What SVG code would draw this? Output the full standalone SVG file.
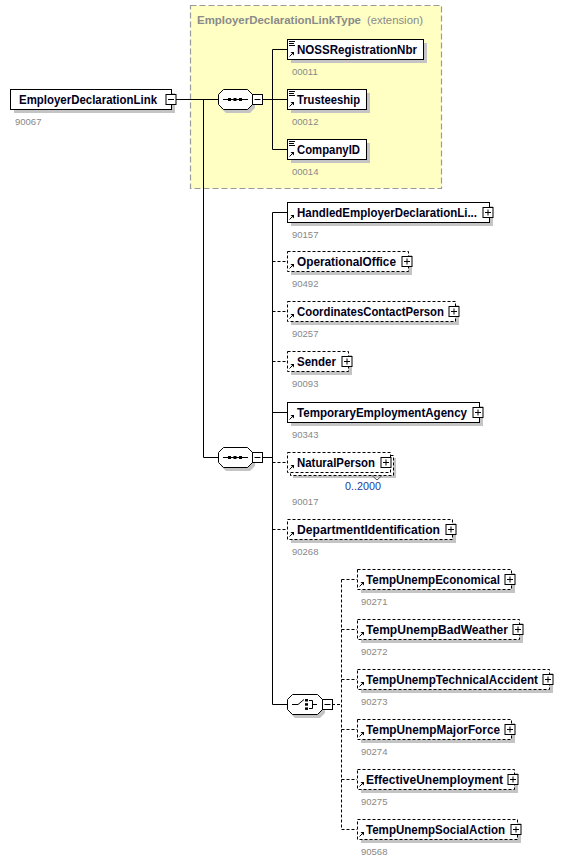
<svg xmlns="http://www.w3.org/2000/svg" width="582" height="863" viewBox="0 0 582 863">
<defs>
<style>
.bg{fill:#fff}
.sh{fill:#c4c4c4}
.box{fill:#fff;stroke:#000;stroke-width:1}
.opt{fill:#fff;stroke:#000;stroke-width:1;stroke-dasharray:3,2}
.lbl{font-family:"Liberation Sans",Arial,sans-serif;font-weight:bold;font-size:12.5px;fill:#00001a}
.num{font-family:"Liberation Sans",Arial,sans-serif;font-size:9.5px;fill:#888}
.mult{font-family:"Liberation Sans",Arial,sans-serif;font-size:11.5px;fill:#1a3c9a}
.ln{fill:none;stroke:#000;stroke-width:1}
.dl{fill:none;stroke:#000;stroke-width:1;stroke-dasharray:3,2}
.pm{fill:#fff;stroke:#000;stroke-width:1}
.ext{fill:#ffffc4;stroke:#9a9a9a;stroke-width:1.2;stroke-dasharray:6,3}
.ttl{font-family:"Liberation Sans",Arial,sans-serif;font-size:11.3px;fill:#8a8a8a}
</style>
<g id="refArrow"><path d="M0.5,4.5 L3.5,1.5" stroke="#000" stroke-width="1"/><path d="M1.5,0 L5,0 L5,3.5 Z" fill="#000"/></g>
<g id="plus"><rect x="-5" y="-5" width="10" height="10" class="pm"/><path d="M-3,0 H3 M0,-3 V3" stroke="#000" stroke-width="1"/></g>
<g id="minus"><rect x="-5" y="-5" width="10" height="10" class="pm"/><path d="M-3,0 H3" stroke="#000" stroke-width="1"/></g>
<g id="docIcon"><path d="M0,0.5 H6 M0,2.5 H5 M0,4.5 H6" stroke="#000" stroke-width="1"/></g>
</defs>
<rect width="582" height="863" class="bg"/>

<!-- extension type box -->
<g id="extType">
<rect x="190.5" y="5.5" width="251" height="183" class="ext"/>
<text x="197" y="24" class="ttl" font-weight="bold" textLength="164" lengthAdjust="spacingAndGlyphs">EmployerDeclarationLinkType</text>
<text x="367" y="24" class="ttl" textLength="56" lengthAdjust="spacingAndGlyphs">(extension)</text>
</g>

<!-- connectors -->
<g id="connectors">
<path class="ln" d="M175,99.5 H218 M203.5,99.5 V457.5 H218"/>
<path class="ln" d="M262,99.5 H272.5 M272.5,49.5 V149.5 M272.5,49.5 H287 M272.5,99.5 H287 M272.5,149.5 H287"/>
<path class="ln" d="M262,457.5 H272.5 M272.5,212.5 V704.5 M272.5,212.5 H287 M272.5,412.5 H287 M272.5,704.5 H287"/>
<path class="dl" d="M272.5,261.5 H287 M272.5,311.5 H287 M272.5,361.5 H287 M272.5,462.5 H287 M272.5,529.5 H287"/>
<path class="dl" d="M332,704.5 H341.5 M341.5,579.5 V829.5 M341.5,579.5 H357 M341.5,629.5 H357 M341.5,679.5 H357 M341.5,729.5 H357 M341.5,779.5 H357 M341.5,829.5 H357"/>
</g>

<!-- root -->
<g id="root">
<rect x="14" y="93" width="161" height="20" class="sh"/>
<rect x="10.5" y="89.5" width="161" height="20" class="box"/>
<text x="19" y="104" class="lbl" textLength="138" lengthAdjust="spacingAndGlyphs">EmployerDeclarationLink</text>
<use href="#minus" x="171" y="99.5"/>
<text x="15" y="125" class="num">90067</text>
</g>

<!-- sequence 1 -->
<g id="seq1">
<path d="M226,93 H250 L255,98 V108 L250,113 H226 L221,108 V98 Z" class="sh"/>
<path d="M223.5,89.5 H247.5 L252.5,94.5 V104.5 L247.5,109.5 H223.5 L218.5,104.5 V94.5 Z" class="box"/>
<path d="M223,99.5 H248" stroke="#000" stroke-width="1"/>
<rect x="228" y="98" width="3" height="3" fill="#000"/><rect x="233.5" y="98" width="3" height="3" fill="#000"/><rect x="239" y="98" width="3" height="3" fill="#000"/>
<use href="#minus" x="257.5" y="99.5"/>
</g>

<!-- extension children -->
<g id="NOSSRegistrationNbr">
<rect x="291" y="43" width="136" height="20" class="sh"/>
<rect x="287.5" y="39.5" width="136" height="20" class="box"/>
<use href="#docIcon" x="289" y="41"/>
<use href="#refArrow" x="289" y="52"/>
<text x="297" y="54" class="lbl" textLength="120" lengthAdjust="spacingAndGlyphs">NOSSRegistrationNbr</text>
<text x="292" y="75" class="num">00011</text>
</g>
<g id="Trusteeship">
<rect x="291" y="93" width="79" height="20" class="sh"/>
<rect x="287.5" y="89.5" width="79" height="20" class="box"/>
<use href="#docIcon" x="289" y="91"/>
<use href="#refArrow" x="289" y="102"/>
<text x="297" y="104" class="lbl" textLength="63" lengthAdjust="spacingAndGlyphs">Trusteeship</text>
<text x="292" y="125" class="num">00012</text>
</g>
<g id="CompanyID">
<rect x="291" y="143" width="79" height="20" class="sh"/>
<rect x="287.5" y="139.5" width="79" height="20" class="box"/>
<use href="#docIcon" x="289" y="141"/>
<use href="#refArrow" x="289" y="152"/>
<text x="297" y="154" class="lbl" textLength="63" lengthAdjust="spacingAndGlyphs">CompanyID</text>
<text x="292" y="175" class="num">00014</text>
</g>

<!-- sequence 2 -->
<g id="seq2">
<path d="M226,451 H250 L255,456 V466 L250,471 H226 L221,466 V456 Z" class="sh"/>
<path d="M223.5,447.5 H247.5 L252.5,452.5 V462.5 L247.5,467.5 H223.5 L218.5,462.5 V452.5 Z" class="box"/>
<path d="M223,457.5 H248" stroke="#000" stroke-width="1"/>
<rect x="228" y="456" width="3" height="3" fill="#000"/><rect x="233.5" y="456" width="3" height="3" fill="#000"/><rect x="239" y="456" width="3" height="3" fill="#000"/>
<use href="#minus" x="257.5" y="457.5"/>
</g>

<g id="HandledEmployerDeclarationLink">
<rect x="291" y="206" width="202" height="20" class="sh"/>
<rect x="287.5" y="202.5" width="202" height="20" class="box"/>
<use href="#refArrow" x="289" y="215"/>
<text x="297" y="217" class="lbl" textLength="180" lengthAdjust="spacingAndGlyphs">HandledEmployerDeclarationLi...</text>
<use href="#plus" x="488" y="212.5"/>
<text x="292" y="238" class="num">90157</text>
</g>
<g id="OperationalOffice">
<rect x="291" y="255" width="121" height="20" class="sh"/>
<rect x="287.5" y="251.5" width="121" height="20" class="opt"/>
<use href="#refArrow" x="289" y="264"/>
<text x="297" y="266" class="lbl" textLength="99" lengthAdjust="spacingAndGlyphs">OperationalOffice</text>
<use href="#plus" x="407" y="261.5"/>
<text x="292" y="287" class="num">90492</text>
</g>
<g id="CoordinatesContactPerson">
<rect x="291" y="305" width="168" height="20" class="sh"/>
<rect x="287.5" y="301.5" width="168" height="20" class="opt"/>
<use href="#refArrow" x="289" y="314"/>
<text x="297" y="316" class="lbl" textLength="147" lengthAdjust="spacingAndGlyphs">CoordinatesContactPerson</text>
<use href="#plus" x="454" y="311.5"/>
<text x="292" y="337" class="num">90257</text>
</g>
<g id="Sender">
<rect x="291" y="355" width="61" height="20" class="sh"/>
<rect x="287.5" y="351.5" width="61" height="20" class="opt"/>
<use href="#refArrow" x="289" y="364"/>
<text x="297" y="366" class="lbl" textLength="39" lengthAdjust="spacingAndGlyphs">Sender</text>
<use href="#plus" x="347" y="361.5"/>
<text x="292" y="387" class="num">90093</text>
</g>
<g id="TemporaryEmploymentAgency">
<rect x="291" y="406" width="192" height="20" class="sh"/>
<rect x="287.5" y="402.5" width="192" height="20" class="box"/>
<use href="#refArrow" x="289" y="415"/>
<text x="297" y="417" class="lbl" textLength="170" lengthAdjust="spacingAndGlyphs">TemporaryEmploymentAgency</text>
<use href="#plus" x="478" y="412.5"/>
<text x="292" y="438" class="num">90343</text>
</g>
<g id="NaturalPerson">
<rect x="293" y="458" width="103" height="20" class="sh"/>
<rect x="290.5" y="455.5" width="103" height="20" class="opt"/>
<rect x="287.5" y="452.5" width="103" height="20" class="opt"/>
<use href="#refArrow" x="289" y="465"/>
<text x="297" y="467" class="lbl" textLength="78" lengthAdjust="spacingAndGlyphs">NaturalPerson</text>
<use href="#plus" x="386" y="462.5"/>
<path d="M372,475.5 L377,480 L382,475.5" fill="none" stroke="#555" stroke-width="1"/>
<text x="345" y="490" class="mult" textLength="36" lengthAdjust="spacingAndGlyphs">0..2000</text>
<text x="292" y="505" class="num">90017</text>
</g>
<g id="DepartmentIdentification">
<rect x="291" y="523" width="165" height="20" class="sh"/>
<rect x="287.5" y="519.5" width="165" height="20" class="opt"/>
<use href="#refArrow" x="289" y="532"/>
<text x="297" y="534" class="lbl" textLength="143" lengthAdjust="spacingAndGlyphs">DepartmentIdentification</text>
<use href="#plus" x="451" y="529.5"/>
<text x="292" y="555" class="num">90268</text>
</g>

<!-- choice -->
<g id="choice">
<path d="M295,698 H320 L325,703 V713 L320,718 H295 L290,713 V703 Z" class="sh"/>
<path d="M292.5,694.5 H317.5 L322.5,699.5 V709.5 L317.5,714.5 H292.5 L287.5,709.5 V699.5 Z" class="box"/>
<path d="M292,704.5 H298 L304,699.5" fill="none" stroke="#000" stroke-width="1"/>
<rect x="305" y="699" width="3" height="2.5" fill="#000"/><rect x="305" y="703.2" width="3" height="2.5" fill="#000"/><rect x="305" y="707.4" width="3" height="2.5" fill="#000"/>
<path d="M309,700.5 H312.5 V708.5 H309 M312.5,704.5 H317" fill="none" stroke="#000" stroke-width="1"/>
<use href="#minus" x="327.5" y="704.5"/>
</g>

<g id="TempUnempEconomical">
<rect x="361" y="573" width="154" height="20" class="sh"/>
<rect x="357.5" y="569.5" width="154" height="20" class="opt"/>
<use href="#refArrow" x="359" y="582"/>
<text x="366" y="584" class="lbl" textLength="134" lengthAdjust="spacingAndGlyphs">TempUnempEconomical</text>
<use href="#plus" x="510" y="579.5"/>
<text x="361" y="605" class="num">90271</text>
</g>
<g id="TempUnempBadWeather">
<rect x="361" y="623" width="162" height="20" class="sh"/>
<rect x="357.5" y="619.5" width="162" height="20" class="opt"/>
<use href="#refArrow" x="359" y="632"/>
<text x="366" y="634" class="lbl" textLength="142" lengthAdjust="spacingAndGlyphs">TempUnempBadWeather</text>
<use href="#plus" x="518" y="629.5"/>
<text x="361" y="655" class="num">90272</text>
</g>
<g id="TempUnempTechnicalAccident">
<rect x="361" y="673" width="192" height="20" class="sh"/>
<rect x="357.5" y="669.5" width="192" height="20" class="opt"/>
<use href="#refArrow" x="359" y="682"/>
<text x="366" y="684" class="lbl" textLength="172" lengthAdjust="spacingAndGlyphs">TempUnempTechnicalAccident</text>
<use href="#plus" x="548" y="679.5"/>
<text x="361" y="705" class="num">90273</text>
</g>
<g id="TempUnempMajorForce">
<rect x="361" y="723" width="154" height="20" class="sh"/>
<rect x="357.5" y="719.5" width="154" height="20" class="opt"/>
<use href="#refArrow" x="359" y="732"/>
<text x="366" y="734" class="lbl" textLength="134" lengthAdjust="spacingAndGlyphs">TempUnempMajorForce</text>
<use href="#plus" x="510" y="729.5"/>
<text x="361" y="755" class="num">90274</text>
</g>
<g id="EffectiveUnemployment">
<rect x="361" y="773" width="157" height="20" class="sh"/>
<rect x="357.5" y="769.5" width="157" height="20" class="opt"/>
<use href="#refArrow" x="359" y="782"/>
<text x="366" y="784" class="lbl" textLength="137" lengthAdjust="spacingAndGlyphs">EffectiveUnemployment</text>
<use href="#plus" x="513" y="779.5"/>
<text x="361" y="805" class="num">90275</text>
</g>
<g id="TempUnempSocialAction">
<rect x="361" y="823" width="160" height="20" class="sh"/>
<rect x="357.5" y="819.5" width="160" height="20" class="opt"/>
<use href="#refArrow" x="359" y="832"/>
<text x="366" y="834" class="lbl" textLength="139" lengthAdjust="spacingAndGlyphs">TempUnempSocialAction</text>
<use href="#plus" x="516" y="829.5"/>
<text x="361" y="855" class="num">90568</text>
</g>
</svg>
